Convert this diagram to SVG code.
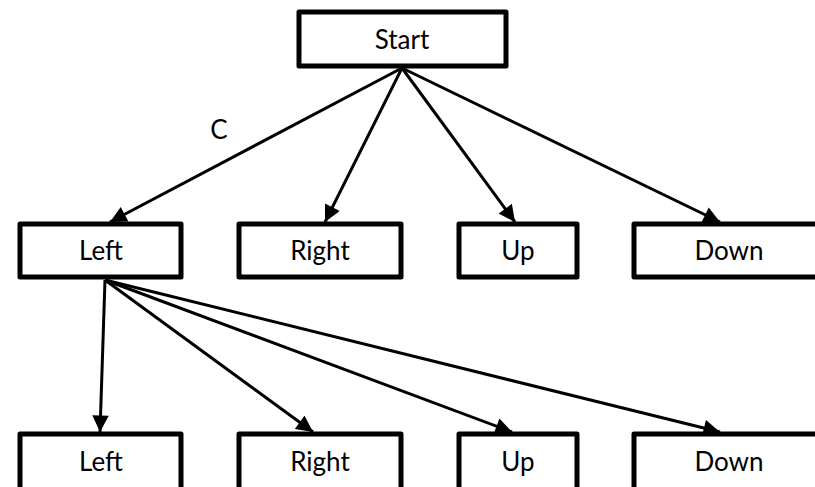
<svg xmlns="http://www.w3.org/2000/svg" width="815" height="487" viewBox="0 0 815 487">
<style>
.box{fill:#fff;stroke:#000;stroke-width:5;stroke-linejoin:round}
.lbl{font-family:Lato,"Open Sans",sans-serif;font-size:26px;fill:#000;text-anchor:middle}
.edge{stroke:#000;stroke-width:3;fill:none;marker-end:url(#ah)}
</style>
<defs>
<marker id="ah" viewBox="0 0 10 10" refX="10" refY="5" markerWidth="6" markerHeight="5.5" markerUnits="strokeWidth" orient="auto">
<path d="M0,0 L10,5 L0,10 z" fill="#000"/>
</marker>
</defs>
<rect width="815" height="487" fill="#fff"/>
<g id="connectors">
<line class="edge" x1="402" y1="68" x2="110" y2="222"/>
<line class="edge" x1="402" y1="68" x2="325" y2="222"/>
<line class="edge" x1="402" y1="68" x2="515" y2="222"/>
<line class="edge" x1="402" y1="68" x2="720" y2="222"/>
<line class="edge" x1="105" y1="280" x2="100" y2="432"/>
<line class="edge" x1="105" y1="280" x2="313" y2="432"/>
<line class="edge" x1="105" y1="280" x2="512" y2="432"/>
<line class="edge" x1="105" y1="280" x2="720" y2="432"/>
<text class="lbl" x="219" y="139">C</text>
</g>
<g id="start"><rect class="box" x="299" y="12" width="207" height="54"/><text class="lbl" x="402" y="49">Start</text></g>
<g id="left1"><rect class="box" x="20" y="224" width="161" height="53"/><text class="lbl" x="101" y="260">Left</text></g>
<g id="right1"><rect class="box" x="239" y="224" width="162" height="53"/><text class="lbl" x="320" y="260">Right</text></g>
<g id="up1"><rect class="box" x="459" y="224" width="118" height="53"/><text class="lbl" x="518" y="260">Up</text></g>
<g id="down1"><rect class="box" x="634" y="224" width="200" height="53"/><text class="lbl" x="729" y="260">Down</text></g>
<g id="left2"><rect class="box" x="20" y="434" width="161" height="70"/><text class="lbl" x="101" y="471">Left</text></g>
<g id="right2"><rect class="box" x="239" y="434" width="162" height="70"/><text class="lbl" x="320" y="471">Right</text></g>
<g id="up2"><rect class="box" x="459" y="434" width="118" height="70"/><text class="lbl" x="518" y="471">Up</text></g>
<g id="down2"><rect class="box" x="634" y="434" width="200" height="70"/><text class="lbl" x="729" y="471">Down</text></g>
</svg>
